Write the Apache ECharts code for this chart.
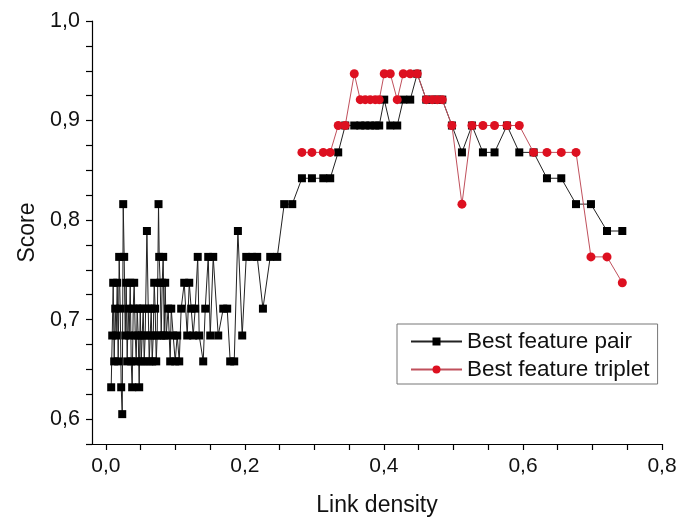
<!DOCTYPE html>
<html>
<head>
<meta charset="utf-8">
<script src="https://cdn.jsdelivr.net/npm/echarts@6/dist/echarts.min.js"></script>
<style>html,body{margin:0;padding:0;background:#fff}#c{width:678px;height:517px}</style>
</head>
<body>
<div id="c"></div>
<script>
const xPair = [0.0076,0.0091,0.0105,0.0119,0.0134,0.0148,0.0163,0.0177,0.0191,0.0206,0.0220,0.0235,0.0249,0.0263,0.0278,0.0292,0.0306,0.0321,0.0335,0.0350,0.0364,0.0378,0.0393,0.0407,0.0422,0.0436,0.0450,0.0465,0.0479,0.0494,0.0508,0.0522,0.0537,0.0551,0.0565,0.0590,0.0609,0.0623,0.0637,0.0652,0.0666,0.0681,0.0695,0.0709,0.0724,0.0738,0.0757,0.0767,0.0781,0.0796,0.0810,0.0824,0.0839,0.0853,0.0868,0.0896,0.0925,0.0940,0.0968,0.0997,0.1026,0.1055,0.1083,0.1127,0.1170,0.1199,0.1227,0.1256,0.1285,0.1321,0.1342,0.1400,0.1429,0.1472,0.1501,0.1544,0.1616,0.1688,0.1745,0.1788,0.1846,0.1899,0.1961,0.2019,0.2105,0.2177,0.2259,0.2364,0.2465,0.2565,0.2681,0.2820,0.2964,0.3127,0.3227,0.3342,0.3443,0.3573,0.3659,0.3731,0.3803,0.3875,0.3932,0.4004,0.4091,0.4191,0.4278,0.4378,0.4479,0.4609,0.4695,0.4767,0.4839,0.4978,0.5122,0.5266,0.5424,0.5591,0.5770,0.5947,0.6153,0.6345,0.6551,0.6763,0.6978,0.7209,0.7429];
const yPair = [
0.632,0.684,0.737,0.658,0.711,0.684,0.737,0.658,0.763,0.711,
0.632,0.605,0.816,0.763,0.684,0.737,0.658,0.711,0.684,0.737,
0.658,0.632,0.711,0.737,0.684,0.658,0.711,0.684,0.632,0.711,
0.658,0.684,0.711,0.658,0.684,
0.789,
0.711,0.658,0.684,0.711,0.658,0.684,0.737,0.711,0.658,0.684,
0.816,
0.763,0.737,0.684,0.737,0.763,0.684,0.737,0.684,
0.711,0.658,0.711,0.684,0.658,0.684,0.658,0.711,
0.737,0.684,0.737,0.711,0.684,0.711,
0.763,0.684,0.658,0.711,0.763,0.684,0.763,0.684,
0.711,0.711,0.658,0.658,0.789,0.684,0.763,0.763,0.763,0.711,
0.763,0.763,0.816,0.816,
0.842,0.842,0.842,0.842,0.868,0.895,
0.895,0.895,0.895,0.895,0.895,0.895,
0.921,0.895,0.895,0.921,0.921,0.947,
0.921,0.921,0.921,0.921,
0.895,0.868,0.895,0.868,0.868,0.895,0.868,0.868,0.842,0.842,0.816,0.816,0.789,0.789];
const xTriplet = [0.2820,0.2964,0.3127,0.3227,0.3342,0.3443,0.3573,0.3659,0.3731,0.3803,0.3875,0.3932,0.4004,0.4091,0.4191,0.4278,0.4378,0.4479,0.4609,0.4695,0.4767,0.4839,0.4978,0.5122,0.5266,0.5424,0.5591,0.5770,0.5947,0.6153,0.6345,0.6551,0.6763,0.6978,0.7209,0.7429];
const yTriplet = [0.868,0.868,0.868,0.868,0.895,0.895,0.947,0.921,0.921,0.921,0.921,0.921,0.947,0.947,0.921,0.947,0.947,0.947,0.921,0.921,0.921,0.921,0.895,0.816,0.895,0.895,0.895,0.895,0.895,0.868,0.868,0.868,0.868,0.763,0.763,0.737];
const seriesNames = ['Best feature pair', 'Best feature triplet'];
const xLabelValues = [0, 0.2, 0.4, 0.6, 0.8];
const xTickValues = [0,0.05,0.1,0.15,0.2,0.25,0.3,0.35,0.4,0.45,0.5,0.55,0.6,0.65,0.7,0.75,0.8];
const xTitle = 'Link density';
const yTitle = 'Score';

const FONT = '"Liberation Sans", Arial, sans-serif';
const fmt = v => v.toFixed(1).replace('.', ',');
const chart = echarts.init(document.getElementById('c'), null, {renderer: 'canvas'});
chart.setOption({
  animation: false,
  backgroundColor: '#fff',
  grid: {left: 92, right: 16, top: 21, bottom: 73, containLabel: false, outerBoundsMode: 'none'},
  legend: {
    orient: 'vertical', left: 397, top: 324,
    backgroundColor: '#fff', borderColor: '#777', borderWidth: 1, borderRadius: 0,
    padding: [6, 8, 3, 13], itemWidth: 51, itemHeight: 10, itemGap: 5,
    textStyle: {fontFamily: FONT, fontSize: 22.5, color: '#111'},
    data: seriesNames
  },
  xAxis: {
    type: 'value', min: -0.02, max: 0.8,
    name: xTitle, nameLocation: 'middle', nameGap: 50,
    nameTextStyle: {fontFamily: FONT, fontSize: 23, color: '#111'},
    axisLine: {show: true, onZero: false, lineStyle: {color: '#000', width: 1.2}},
    axisTick: {show: true, inside: false, length: 6, customValues: xTickValues, lineStyle: {color: '#000', width: 1.2}},
    axisLabel: {customValues: xLabelValues, formatter: fmt, margin: 12, fontFamily: FONT, fontSize: 21, color: '#111'},
    splitLine: {show: false}
  },
  yAxis: {
    type: 'value', min: 0.575, max: 1.0, interval: 0.025,
    name: yTitle, nameLocation: 'middle', nameGap: 52,
    nameTextStyle: {fontFamily: FONT, fontSize: 23, color: '#111'},
    axisLine: {show: true, onZero: false, lineStyle: {color: '#000', width: 1.2}},
    axisTick: {show: true, inside: false, length: 6, lineStyle: {color: '#000', width: 1.2}},
    axisLabel: {
      margin: 12, fontFamily: FONT, fontSize: 21.5, color: '#111',
      formatter: v => (Math.abs(v * 10 - Math.round(v * 10)) < 1e-6 ? fmt(v) : '')
    },
    splitLine: {show: false}
  },
  series: [
    {
      name: seriesNames[0], type: 'line',
      data: xPair.map((x, i) => [x, yPair[i]]),
      symbol: 'rect', symbolSize: 8, showAllSymbol: true,
      lineStyle: {color: '#222', width: 1},
      itemStyle: {color: '#000'},
      z: 2
    },
    {
      name: seriesNames[1], type: 'line',
      data: xTriplet.map((x, i) => [x, yTriplet[i]]),
      symbol: 'circle', symbolSize: 9, showAllSymbol: true,
      lineStyle: {color: '#c0505c', width: 1},
      itemStyle: {color: '#dd1020'},
      z: 3
    }
  ]
});
</script>
</body>
</html>
